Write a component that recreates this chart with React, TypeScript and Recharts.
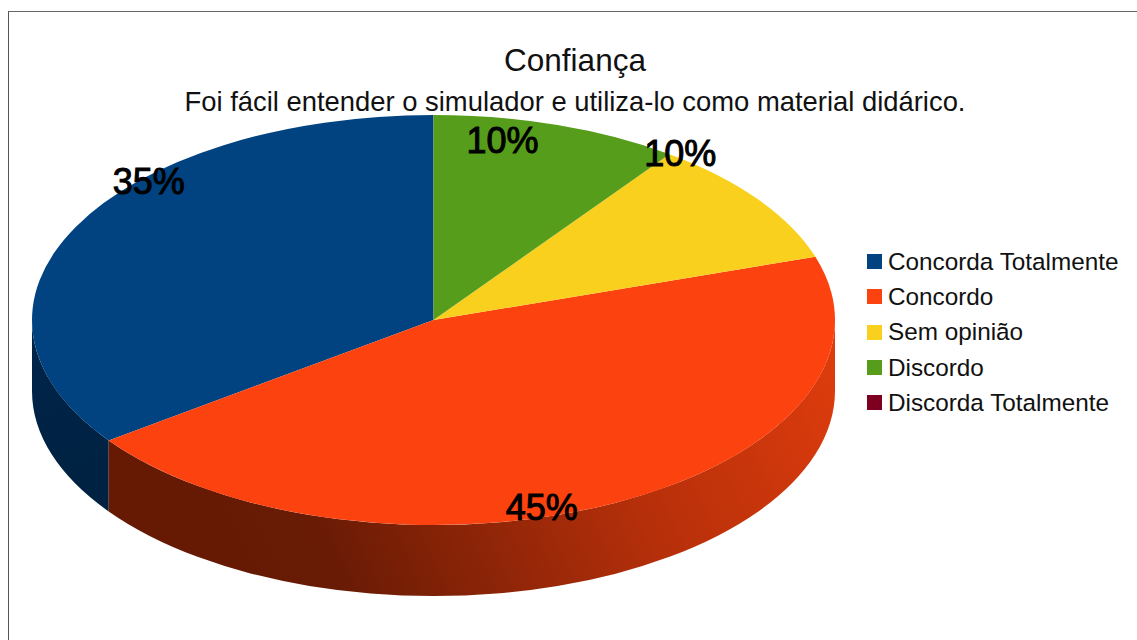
import React from 'react';
import { PieChart, Pie, Legend } from 'recharts';

const categories = [
  'Concorda Totalmente',
  'Concordo',
  'Sem opinião',
  'Discordo',
  'Discorda Totalmente',
];
const percents = [35, 45, 10, 10, 0];
const colors = ['#014280', '#fc420e', '#f9d01e', '#579d1c', '#7e0021'];
const wallFills = ['url(#blueWall)', 'url(#orangeWall)', '#8a7310', '#30570f', '#46000f'];
// where each percent label sits, relative to the rim point of its slice
const labelNudge = [
  [73, -45],
  [-74, 5],
  [-78, -46],
  [-55, 15],
  [0, 0],
];

const FONT = '"Liberation Sans", Arial, sans-serif';
const CX = 433.5;
const CY = 320;
const RX = 401.5;
const RY = 205;
const DEPTH = 71;

const tableData = categories.map((name, i) => ({ name, value: percents[i], fill: colors[i] }));

const rad = (deg: number) => (deg * Math.PI) / 180;
const px = (cx: number, deg: number) => cx + RX * Math.cos(rad(deg));
const py = (cy: number, deg: number) => cy - RY * Math.sin(rad(deg));

// pie slice squashed to an ellipse, with the rim wall under the front part
const Slice3D = (props: any) => {
  const { cx, cy, startAngle, endAngle, fill, index } = props;
  if (endAngle - startAngle <= 0) return null;
  const large = endAngle - startAngle > 180 ? 1 : 0;
  const top = `M${cx},${cy} L${px(cx, startAngle)},${py(cy, startAngle)} A${RX},${RY} 0 ${large} 0 ${px(cx, endAngle)},${py(cy, endAngle)} Z`;
  const a0 = Math.max(startAngle, 180);
  const a1 = Math.min(endAngle, 360);
  let wall = '';
  if (a1 > a0) {
    wall = `M${px(cx, a0)},${py(cy, a0)} A${RX},${RY} 0 0 0 ${px(cx, a1)},${py(cy, a1)} L${px(cx, a1)},${py(cy, a1) + DEPTH} A${RX},${RY} 0 0 1 ${px(cx, a0)},${py(cy, a0) + DEPTH} Z`;
  }
  return (
    <g>
      {wall && <path d={wall} fill={wallFills[index]} stroke="none" />}
      <path d={top} fill={fill} stroke="none" />
    </g>
  );
};

const renderPercent = (props: any) => {
  const { cx, cy, midAngle, index, value } = props;
  if (!value) return null;
  const [dx, dy] = labelNudge[index];
  return (
    <text
      x={px(cx, midAngle) + dx}
      y={py(cy, midAngle) + dy}
      textAnchor="middle"
      dominantBaseline="central"
      fontFamily={FONT}
      fontSize={36}
      fill="#000"
      stroke="#000"
      strokeWidth={1}
    >
      {value}%
    </text>
  );
};

const renderLegend = () => (
  <div style={{ fontFamily: FONT, fontSize: 24.3, color: '#111' }}>
    {categories.map((name, i) => (
      <div key={name} style={{ display: 'flex', alignItems: 'center', height: 35.3, whiteSpace: 'nowrap' }}>
        <span style={{ width: 15, height: 15, background: colors[i], marginRight: 6, flex: 'none' }} />
        {name}
      </div>
    ))}
  </div>
);

export default function App() {
  return (
    <div style={{ position: 'absolute', left: 0, top: 0, width: 1137, height: 640, background: '#fff', overflow: 'hidden' }}>
      <div style={{ position: 'absolute', left: 8, top: 11, width: 1129, height: 629, borderLeft: '1.5px solid #555', borderTop: '1.5px solid #666' }} />
      <PieChart width={1137} height={640} margin={{ top: 0, right: 0, bottom: 0, left: 0 }}>
        <defs>
          <linearGradient id="orangeWall" gradientUnits="userSpaceOnUse" x1={270} y1={610} x2={835} y2={350}>
            <stop offset="0%" stopColor="#661a04" />
            <stop offset="12%" stopColor="#691b05" />
            <stop offset="60%" stopColor="#b42f0a" />
            <stop offset="100%" stopColor="#de3c0d" />
          </linearGradient>
          <linearGradient id="blueWall" gradientUnits="userSpaceOnUse" x1={33} y1={330} x2={108} y2={510}>
            <stop offset="0%" stopColor="#00254a" />
            <stop offset="100%" stopColor="#002140" />
          </linearGradient>
        </defs>
        <text x={575} y={60} textAnchor="middle" dominantBaseline="central" fontFamily={FONT} fontSize={31.5} fill="#111">
          Confiança
        </text>
        <text x={575} y={101} textAnchor="middle" dominantBaseline="central" fontFamily={FONT} fontSize={27.4} fill="#111">
          Foi fácil entender o simulador e utiliza-lo como material didárico.
        </text>
        <Pie
          data={tableData}
          dataKey="value"
          nameKey="name"
          cx={CX}
          cy={CY}
          innerRadius={0}
          outerRadius={RX}
          startAngle={90}
          endAngle={450}
          paddingAngle={0}
          stroke="none"
          shape={Slice3D}
          label={renderPercent}
          labelLine={false}
          isAnimationActive={false}
        />
        <Legend
          layout="vertical"
          content={renderLegend}
          wrapperStyle={{ position: 'absolute', left: 867, top: 244, width: 265, height: 180 }}
        />
      </PieChart>
    </div>
  );
}
